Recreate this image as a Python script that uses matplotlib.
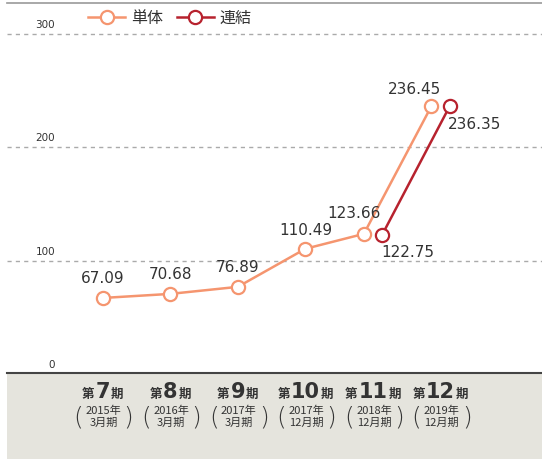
import numpy as np
import matplotlib
matplotlib.use("Agg")
import matplotlib.pyplot as plt
from matplotlib.patches import Rectangle
from matplotlib.lines import Line2D

plt.rcParams["font.family"] = ["Noto Sans CJK JP", "DejaVu Sans"]

# data
periods = ["7", "8", "9", "10", "11", "12"]
years = ["2015年", "2016年", "2017年", "2017年", "2018年", "2019年"]
months = ["3月期", "3月期", "3月期", "12月期", "12月期", "12月期"]
single = [67.09, 70.68, 76.89, 110.49, 123.66, 236.45]
consol_idx = [4, 5]
consol = [122.75, 236.35]
yticks = [0, 100, 200, 300]

c_single = "#f5956f"
c_consol = "#b7222e"
c_text = "#333333"

W, H = 542, 459
fig = plt.figure(figsize=(W / 100, H / 100), dpi=100)

def px(x, y, w, h):
    return [x / W, 1 - (y + h) / H, w / W, h / H]

# gray band at bottom + lines
fig.patches.append(Rectangle((7 / W, 0), 1, (H - 373) / H, transform=fig.transFigure,
                             facecolor="#e5e4dd", edgecolor="none", zorder=-5))
fig.add_artist(Line2D([7 / W, 1], [1 - 373 / H] * 2, transform=fig.transFigure,
                      color="#444444", lw=1.5))
fig.add_artist(Line2D([7 / W, 1], [1 - 3 / H] * 2, transform=fig.transFigure,
                      color="#999999", lw=1.2))

ax = fig.add_axes(px(7, 0, 535, 374))
ax.set_xlim(-1.414, 6.5)
ax.set_ylim(0, 330)
ax.axis("off")
ax.set_zorder(2)

for t in yticks[1:]:
    ax.axhline(t, color="#aaaaaa", lw=1, ls=(0, (3, 3)), zorder=1)
for t in yticks:
    ax.annotate(str(t), (0, t), xycoords=("axes fraction", "data"),
                xytext=(48, 4), textcoords="offset pixels", ha="right", va="bottom",
                fontsize=7.5, color=c_text, family="DejaVu Sans")

# x positions: periods 11 and 12 are split
off = 0.135
xs = np.arange(len(single), dtype=float)
xs_single = xs.copy()
xs_single[consol_idx] -= off
xs_consol = xs[consol_idx] + off

mk = dict(marker="o", markersize=9.5, markerfacecolor="white", markeredgewidth=1.6)
ax.plot(xs_single, single, color=c_single, lw=1.8, label="単体", zorder=3, **mk)
ax.plot(xs_consol, consol, color=c_consol, lw=1.8, label="連結", zorder=3, **mk)

# value labels
lab_kw = dict(textcoords="offset pixels", ha="center", va="center", fontsize=11,
              color=c_text, family="DejaVu Sans", annotation_clip=False)
single_off = [(0, 19), (0, 19), (0, 19), (0, 18), (-10, 20), (-17, 17)]
for x, v, o in zip(xs_single, single, single_off):
    ax.annotate(f"{v:.2f}", (x, v), xytext=o, **lab_kw)
consol_off = [(26, -18), (25, -18)]
for x, v, o in zip(xs_consol, consol, consol_off):
    ax.annotate(f"{v:.2f}", (x, v), xytext=o, **lab_kw)

leg = fig.legend(loc="center left", bbox_to_anchor=(74 / W, 1 - 18 / H), ncol=2,
                 frameon=False, fontsize=11.5, handlelength=2.3, columnspacing=0.9,
                 handletextpad=0.35, labelcolor=c_text)

# category labels in the gray band
fig.canvas.draw()
rend = fig.canvas.get_renderer()
ckw = dict(textcoords="offset pixels", color=c_text, annotation_clip=False)
for i, (p, yr, mo) in enumerate(zip(periods, years, months)):
    num = ax.annotate(p, (xs[i], 0), xytext=(0, -24), ha="center", va="baseline",
                      fontsize=15, fontweight="bold", family="DejaVu Sans", **ckw)
    bb = num.get_window_extent(rend)
    half = bb.width / 2 + 1
    ax.annotate("第", (xs[i], 0), xytext=(-half, -24), ha="right", va="baseline",
                fontsize=9, fontweight="bold", **ckw)
    ax.annotate("期", (xs[i], 0), xytext=(half, -24), ha="left", va="baseline",
                fontsize=9, fontweight="bold", **ckw)
    ax.annotate(yr, (xs[i], 0), xytext=(1, -37), ha="center", va="center",
                fontsize=8, **ckw)
    ax.annotate(mo, (xs[i], 0), xytext=(1, -49), ha="center", va="center",
                fontsize=8, **ckw)
    for dx, ch in [(-24, "("), (26, ")")]:
        ax.annotate(ch, (xs[i], 0), xytext=(dx, -43), ha="center", va="center",
                    fontsize=18, fontweight="light", family="DejaVu Sans", **ckw)

fig.savefig("out.png", dpi=100)
